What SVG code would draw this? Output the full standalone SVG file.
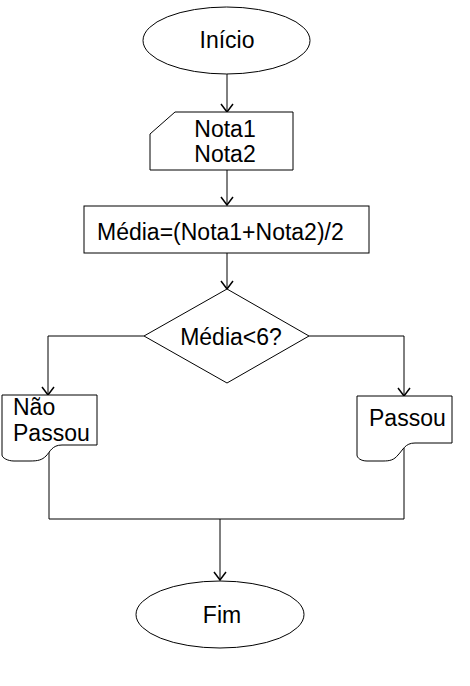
<svg xmlns="http://www.w3.org/2000/svg" width="470" height="686" viewBox="0 0 470 686">
<style>
.s{fill:#fff;stroke:#000;stroke-width:1}
.t{font-family:"Liberation Sans",Arial,sans-serif;font-size:23px;fill:#000}
.c{fill:none;stroke:#000;stroke-width:1}
</style>
<defs>
<marker id="a" markerWidth="10" markerHeight="14" refX="9" refY="7" orient="auto" markerUnits="userSpaceOnUse" viewBox="0 0 10 14">
<path d="M1,1 L9,7 L1,13" fill="none" stroke="#000" stroke-width="1.5"/>
</marker>
</defs>
<rect width="470" height="686" fill="#fff"/>
<g id="connectors">
<path class="c" d="M227,74 V112" marker-end="url(#a)"/>
<path class="c" d="M227,170 V205" marker-end="url(#a)"/>
<path class="c" d="M227,253 V289" marker-end="url(#a)"/>
<path class="c" d="M144,336 H48 V395" marker-end="url(#a)"/>
<path class="c" d="M309,336 H404 V396" marker-end="url(#a)"/>
<path class="c" d="M49,452 V519 H404 V448"/>
<path class="c" d="M220,519 V580" marker-end="url(#a)"/>
</g>
<g id="inicio">
<ellipse class="s" cx="226.5" cy="40.5" rx="83.5" ry="33.5"/>
<text class="t" x="227" y="48" text-anchor="middle">Início</text>
</g>
<g id="entrada">
<path class="s" d="M175,112 H293 V170 H150 V134 Z"/>
<text class="t" x="225" y="137" text-anchor="middle">Nota1</text>
<text class="t" x="225" y="162" text-anchor="middle">Nota2</text>
</g>
<g id="media">
<rect class="s" x="84" y="206" width="285" height="47"/>
<text class="t" x="97" y="240">Média=(Nota1+Nota2)/2</text>
</g>
<g id="decisao">
<path class="s" d="M227,289 L309,336 L227,383 L144,336 Z"/>
<text class="t" x="231" y="345" text-anchor="middle">Média&lt;6?</text>
</g>
<g id="naopassou">
<path class="s" d="M2,395 H97 V445 H62 C52,445 50,452 46,456 C42,460 38,461 30,461 L14,461 C8,461 2,458 2,455 Z"/>
<text class="t" x="13" y="415">Não</text>
<text class="t" x="13" y="441">Passou</text>
</g>
<g id="passou">
<path class="s" d="M357,396 H452 V443 H415 C405,443 403,450 398,455 C394,460 390,461 383,461 L367,461 C361,461 357,458 357,455 Z"/>
<text class="t" x="369" y="426">Passou</text>
</g>
<g id="fim">
<ellipse class="s" cx="220" cy="614.5" rx="84" ry="33.5"/>
<text class="t" x="222" y="623" text-anchor="middle">Fim</text>
</g>
</svg>
